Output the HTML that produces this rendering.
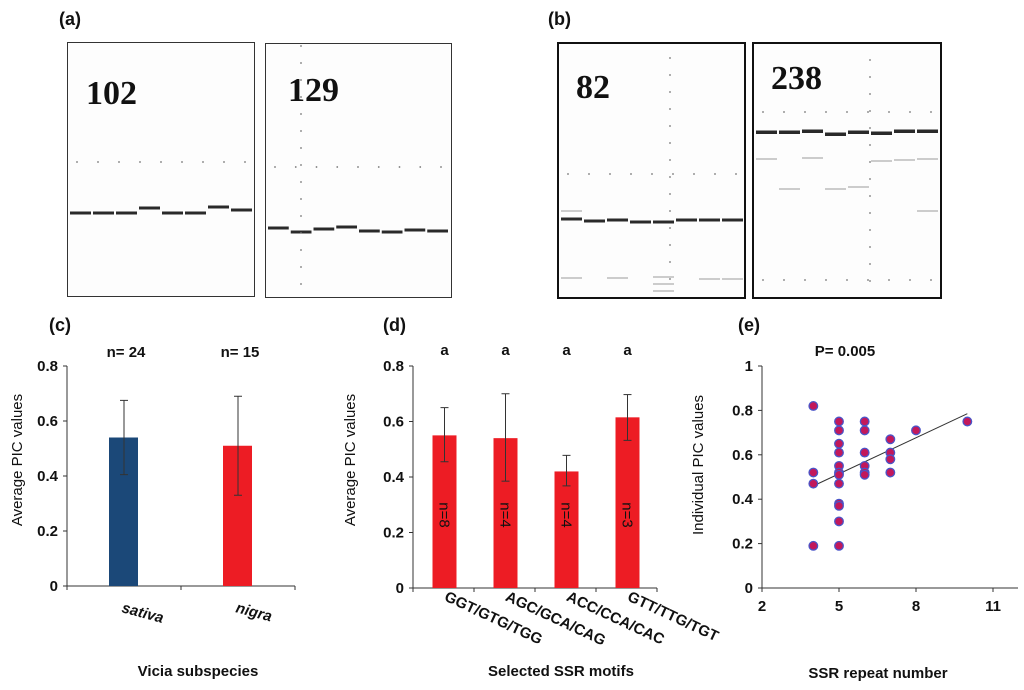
<!DOCTYPE html>
<html><head><meta charset="utf-8"><style>
html,body{margin:0;padding:0;background:#fff;}
svg{display:block;font-family:"Liberation Sans",Arial,sans-serif;}
.tk{font-size:15px;font-weight:bold;fill:#111;}
.pl{font-size:18px;font-weight:bold;fill:#111;}
.ax{font-size:15px;font-weight:normal;fill:#111;}
.gl{font-family:"Liberation Serif",serif;font-size:34px;font-weight:bold;fill:#111;}
</style></head><body>
<svg id="fig" width="1024" height="690" viewBox="0 0 1024 690">
<g>
<text class="pl" x="59" y="25">(a)</text>
<rect x="67.5" y="42.5" width="187" height="254" fill="#fdfdfd" stroke="#333" stroke-width="1"/>
<rect x="265.5" y="43.5" width="186" height="254" fill="#fdfdfd" stroke="#333" stroke-width="1"/>
<text class="gl" x="86" y="104">102</text>
<text class="gl" x="288" y="101">129</text>
<g id="gelA"></g>
</g>
<g>
<text class="pl" x="548" y="25">(b)</text>
<rect x="558" y="43" width="187" height="255" fill="#fdfdfd" stroke="#111" stroke-width="2"/>
<rect x="753" y="43" width="188" height="255" fill="#fdfdfd" stroke="#111" stroke-width="2"/>
<text class="gl" x="576" y="98">82</text>
<text class="gl" x="771" y="89">238</text>
<g id="gelB"></g>
</g>
<g id="chartC"></g>
<g id="chartD"></g>
<g id="chartE"></g>
</svg>
<script>
// ---- chart c data
const cCats=["sativa","nigra"];
const cVals=[0.54,0.51];
const cHi=[0.675,0.69];
const cLo=[0.405,0.33];
const cN=["n= 24","n= 15"];
const cColors=["#1b4878","#ed1c24"];
// ---- chart d data
const dCats=["GGT/GTG/TGG","AGC/GCA/CAG","ACC/CCA/CAC","GTT/TTG/TGT"];
const dVals=[0.55,0.54,0.42,0.615];
const dHi=[0.65,0.70,0.478,0.697];
const dLo=[0.455,0.385,0.368,0.532];
const dN=["n=8","n=4","n=4","n=3"];
const yTicks=["0","0.2","0.4","0.6","0.8"];
// ---- chart e data
const eX=[4,4,4,4,5,5,5,5,5,5,5,5,5,5,5,5,6,6,6,6,6,6,7,7,7,7,8,10];
const eY=[0.82,0.52,0.47,0.19,0.75,0.71,0.65,0.61,0.55,0.52,0.51,0.47,0.38,0.37,0.30,0.19,0.75,0.71,0.61,0.55,0.52,0.51,0.67,0.61,0.58,0.52,0.71,0.75];
const eXTicks=[2,5,8,11];
const eYTicks=[0,0.2,0.4,0.6,0.8,1];
const eTrend=[[4,0.46],[10,0.785]];

const NS="http://www.w3.org/2000/svg";
function mk(p,tag,at,txt){const e=document.createElementNS(NS,tag);for(const k in at)e.setAttribute(k,at[k]);if(txt!==undefined)e.textContent=txt;p.appendChild(e);return e;}

function gel(g,x0,w,lanes,bands,dotsY,vdotX,vdotY0,vdotY1,faint,thick){
  const lw=w/lanes;
  for(let i=0;i<lanes;i++){
    const b=mk(g,'rect',{x:x0+i*lw+1,y:bands[i]-1.5,width:lw-2,height:thick,fill:'#2a2a2a'});
    
    
    (faint[i]||[]).forEach(fy=>mk(g,'rect',{x:x0+i*lw+1,y:fy,width:lw-2,height:2,fill:'#ccc'}));
  }
  dotsY.forEach(dy=>{for(let i=0;i<=lanes;i++)mk(g,'circle',{cx:x0+8+i*(w-16)/lanes,cy:dy,r:0.9,fill:'#777'});});
  if(vdotX)for(let y=vdotY0;y<=vdotY1;y+=17)mk(g,'circle',{cx:vdotX,cy:y,r:0.9,fill:'#777'});
}
const gA=document.getElementById('gelA'),gB=document.getElementById('gelB');
gel(gA,69,184,8,[213,213,213,208,213,213,207,210],[162],0,0,0,{},3);
gel(gA,267,182,8,[228,232,229,227,231,232,230,231],[167],301,46,290,{},3);
gel(gB,560,184,8,[219,221,220,222,222,220,220,220],[174],670,58,292,{0:[210,277],2:[277],4:[276,283,290],6:[278],7:[278]},3);
gel(gB,755,184,8,[132,132,131,134,132,133,131,131],[112,280],870,60,296,{0:[158],1:[188],2:[157],3:[188],4:[186],5:[160],6:[159],7:[158,210]},3.5);

// chart c
(function(){
  const g=document.getElementById('chartC');
  const X0=67,X1=295,Y0=586,K=275;
  const y=v=>Y0-v*K, bw=(X1-X0)/cCats.length, cx=i=>X0+bw*(i+0.5);
  mk(g,'text',{class:'pl',x:49,y:331},'(c)');
  mk(g,'line',{x1:X0,y1:366,x2:X0,y2:Y0,stroke:'#333'});
  mk(g,'line',{x1:X0,y1:Y0,x2:X1,y2:Y0,stroke:'#333'});
  yTicks.forEach(t=>{const yy=y(+t);mk(g,'line',{x1:X0-4,y1:yy,x2:X0,y2:yy,stroke:'#333'});mk(g,'text',{class:'tk',x:X0-9,y:yy+5,'text-anchor':'end'},t);});
  for(let i=0;i<=cCats.length;i++)mk(g,'line',{x1:X0+bw*i,y1:Y0,x2:X0+bw*i,y2:Y0+4,stroke:'#333'});
  cVals.forEach((v,i)=>{
    const r=mk(g,'rect',{x:cx(i)-15,y:y(v),width:29,height:Y0-y(v),fill:cColors[i]});
    
    
    mk(g,'line',{x1:cx(i),y1:y(cHi[i]),x2:cx(i),y2:y(cLo[i]),stroke:'#333'});
    mk(g,'line',{x1:cx(i)-4,y1:y(cHi[i]),x2:cx(i)+4,y2:y(cHi[i]),stroke:'#333'});
    mk(g,'line',{x1:cx(i)-4,y1:y(cLo[i]),x2:cx(i)+4,y2:y(cLo[i]),stroke:'#333'});
    mk(g,'text',{class:'tk',x:cx(i)+2,y:357,'text-anchor':'middle'},cN[i]);
    mk(g,'text',{class:'tk',x:cx(i)-3,y:612,transform:`rotate(15 ${cx(i)-3} 612)`,'font-style':'italic'},cCats[i]);
  });
  mk(g,'text',{class:'ax',x:-460,y:22,transform:'rotate(-90)','text-anchor':'middle'},'Average  PIC  values');
  mk(g,'text',{class:'tk',x:198,y:676,'text-anchor':'middle','font-size':'18px'},'Vicia subspecies');
})();

// chart d
(function(){
  const g=document.getElementById('chartD');
  const X0=413,X1=657,Y0=588,K=277.5;
  const y=v=>Y0-v*K, bw=(X1-X0)/dCats.length, cx=i=>X0+bw*(i+0.5)+1;
  mk(g,'text',{class:'pl',x:383,y:331},'(d)');
  mk(g,'line',{x1:X0,y1:366,x2:X0,y2:Y0,stroke:'#333'});
  mk(g,'line',{x1:X0,y1:Y0,x2:X1,y2:Y0,stroke:'#333'});
  yTicks.forEach(t=>{const yy=y(+t);mk(g,'line',{x1:X0-4,y1:yy,x2:X0,y2:yy,stroke:'#333'});mk(g,'text',{class:'tk',x:X0-9,y:yy+5,'text-anchor':'end'},t);});
  for(let i=0;i<=dCats.length;i++)mk(g,'line',{x1:X0+bw*i,y1:Y0,x2:X0+bw*i,y2:Y0+4,stroke:'#333'});
  dVals.forEach((v,i)=>{
    const r=mk(g,'rect',{x:cx(i)-12,y:y(v),width:24,height:Y0-y(v),fill:'#ed1c24'});
    
    
    mk(g,'line',{x1:cx(i),y1:y(dHi[i]),x2:cx(i),y2:y(dLo[i]),stroke:'#333'});
    mk(g,'line',{x1:cx(i)-4,y1:y(dHi[i]),x2:cx(i)+4,y2:y(dHi[i]),stroke:'#333'});
    mk(g,'line',{x1:cx(i)-4,y1:y(dLo[i]),x2:cx(i)+4,y2:y(dLo[i]),stroke:'#333'});
    mk(g,'text',{class:'tk',x:cx(i),y:355,'text-anchor':'middle'},'a');
    mk(g,'text',{class:'ax',x:cx(i)-5,y:515,transform:`rotate(90 ${cx(i)-5} 515)`,'text-anchor':'middle','fill':'#222'},dN[i]);
    const lx=cx(i)-1,ly=600;
    mk(g,'text',{class:'tk',x:lx,y:ly,transform:`rotate(25 ${lx} ${ly})`,'font-size':'14px'},dCats[i]);
  });
  mk(g,'text',{class:'ax',x:-460,y:355,transform:'rotate(-90)','text-anchor':'middle'},'Average  PIC  values');
  mk(g,'text',{class:'tk',x:561,y:676,'text-anchor':'middle','font-size':'18px'},'Selected SSR motifs');
})();

// chart e
(function(){
  const g=document.getElementById('chartE');
  const X0=762,Y0=588,KX=77/3,KY=222;
  const x=v=>X0+(v-2)*KX, y=v=>Y0-v*KY;
  mk(g,'text',{class:'pl',x:738,y:331},'(e)');
  mk(g,'text',{class:'tk',x:845,y:356,'text-anchor':'middle','font-size':'14px'},'P= 0.005');
  mk(g,'line',{x1:X0,y1:366,x2:X0,y2:Y0,stroke:'#333'});
  mk(g,'line',{x1:X0,y1:Y0,x2:1018,y2:Y0,stroke:'#333'});
  eYTicks.forEach(t=>{const yy=y(t);mk(g,'line',{x1:X0-4,y1:yy,x2:X0,y2:yy,stroke:'#333'});mk(g,'text',{class:'tk',x:X0-9,y:yy+5,'text-anchor':'end'},String(t));});
  eXTicks.forEach(t=>{const xx=x(t);mk(g,'line',{x1:xx,y1:Y0,x2:xx,y2:Y0+4,stroke:'#333'});mk(g,'text',{class:'tk',x:xx,y:Y0+23,'text-anchor':'middle'},String(t));});
  mk(g,'line',{x1:x(eTrend[0][0]),y1:y(eTrend[0][1]),x2:x(eTrend[1][0]),y2:y(eTrend[1][1]),stroke:'#333'});
  eX.forEach((v,i)=>{
    const c=mk(g,'circle',{cx:x(v),cy:y(eY[i]),r:4.3,fill:'#c2185b',stroke:'#4a55c8','stroke-width':1.3});
    
    
  });
  mk(g,'text',{class:'ax',x:-465,y:703,transform:'rotate(-90)','text-anchor':'middle'},'Individual  PIC  values');
  mk(g,'text',{class:'tk',x:878,y:678,'text-anchor':'middle','font-size':'18px'},'SSR repeat number');
})();
</script>
</body></html>
